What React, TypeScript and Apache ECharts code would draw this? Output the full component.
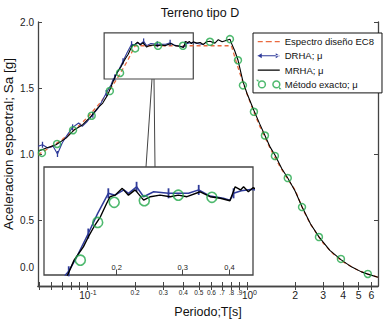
import React, { useEffect, useRef } from 'react';
import * as echarts from 'echarts';

// Design spectrum EC8 [T (s), Sa (g)]
const ec8: [number, number][] = [
  [0.0494, 0.995], [0.06, 1.056], [0.07, 1.11], [0.08, 1.165], [0.09, 1.22], [0.1, 1.274],
  [0.12, 1.383], [0.14, 1.492], [0.16, 1.602], [0.18, 1.711], [0.2, 1.82], [0.8, 1.82],
  [0.85, 1.713], [0.9, 1.618], [1.0, 1.456], [1.1, 1.324], [1.2, 1.213], [1.4, 1.04],
  [1.6, 0.91], [1.8, 0.809], [2.0, 0.728], [2.25, 0.575], [2.5, 0.466], [3.0, 0.324],
  [3.5, 0.238], [4.0, 0.182], [5.0, 0.116], [6.0, 0.081], [6.6, 0.067],
];

// DRHA; mu
const drha: [number, number][] = [
  [0.0495, 1.058], [0.0527, 1.07], [0.0569, 1.045], [0.0614, 1.058], [0.0654, 1.0], [0.07, 1.083],
  [0.0742, 1.134], [0.0813, 1.202], [0.0887, 1.235], [0.0934, 1.21], [0.1007, 1.248], [0.1088, 1.298],
  [0.1175, 1.348], [0.1224, 1.386], [0.132, 1.462], [0.1415, 1.525], [0.146, 1.568], [0.149, 1.58],
  [0.157, 1.63], [0.168, 1.702], [0.178, 1.767], [0.19, 1.832], [0.198, 1.826], [0.209, 1.843],
  [0.215, 1.832], [0.226, 1.853], [0.236, 1.821], [0.251, 1.837], [0.275, 1.832], [0.311, 1.832],
  [0.331, 1.843], [0.355, 1.823], [0.385, 1.816], [0.401, 1.81], [0.41, 1.832], [0.43, 1.84],
  [0.46, 1.845], [0.5, 1.835], [0.53, 1.83],
];
const drhaMarkedT: number[] = [0.0527, 0.0654, 0.0813, 0.1088, 0.132, 0.149, 0.168, 0.19, 0.226, 0.275, 0.331, 0.41];

// MRHA; mu
const mrha: [number, number][] = [
  [0.0495, 1.02], [0.0557, 1.045], [0.064, 1.07], [0.074, 1.12], [0.0835, 1.184], [0.094, 1.222],
  [0.1059, 1.285], [0.1165, 1.348], [0.1255, 1.386], [0.135, 1.45], [0.147, 1.56], [0.154, 1.616],
  [0.163, 1.659], [0.168, 1.691], [0.174, 1.724], [0.181, 1.756], [0.188, 1.799], [0.192, 1.821],
  [0.198, 1.826], [0.207, 1.848], [0.215, 1.826], [0.224, 1.843], [0.236, 1.81], [0.246, 1.821],
  [0.261, 1.826], [0.278, 1.821], [0.292, 1.826], [0.308, 1.821], [0.334, 1.837], [0.355, 1.821],
  [0.378, 1.816], [0.401, 1.808], [0.414, 1.853], [0.428, 1.843], [0.436, 1.853], [0.449, 1.837],
  [0.462, 1.85], [0.485, 1.84], [0.51, 1.845], [0.533, 1.83], [0.56, 1.85], [0.587, 1.854],
  [0.631, 1.84], [0.662, 1.866], [0.7, 1.85], [0.74, 1.86], [0.783, 1.87], [0.8, 1.84],
  [0.84, 1.78], [0.88, 1.71], [0.944, 1.55], [1.0, 1.46], [1.106, 1.33], [1.2, 1.23],
  [1.296, 1.14], [1.4, 1.05], [1.5, 0.99], [1.65, 0.89], [1.8, 0.818], [2.0, 0.72],
  [2.21, 0.6], [2.5, 0.47], [2.82, 0.372], [3.3, 0.27], [3.87, 0.2], [4.5, 0.145],
  [5.2, 0.107], [5.7, 0.09], [6.6, 0.066],
];

// Exact method; mu (main plot)
const exact: [number, number][] = [
  [0.0523, 1.008], [0.065, 1.076], [0.0818, 1.18], [0.107, 1.29], [0.139, 1.477], [0.161, 1.614],
  [0.2, 1.8], [0.278, 1.82], [0.398, 1.82], [0.587, 1.85], [0.783, 1.87], [0.879, 1.71],
  [0.944, 1.52], [1.106, 1.32], [1.296, 1.14], [1.496, 0.985], [1.8, 0.818], [2.21, 0.598],
  [2.82, 0.371], [3.87, 0.205], [5.7, 0.091],
];
// Exact method; mu (inset)
const exactInset: [number, number][] = [
  [0.16, 1.616], [0.178, 1.738], [0.197, 1.803], [0.237, 1.808], [0.292, 1.826], [0.359, 1.819],
];

const xTickT = [0.05, 0.06, 0.07, 0.08, 0.09, 0.1, 0.2, 0.3, 0.4, 0.5, 0.6, 0.7, 0.8, 0.9, 1, 2, 3, 4, 5, 6];
const xLabelT = [0.1, 0.2, 0.3, 0.4, 0.5, 0.6, 0.7, 0.8, 0.9, 1, 2, 3, 4, 5, 6];
const insetLabelT = [0.2, 0.3, 0.4];
const tRange = [0.0494, 6.6];
const saRange = [0, 2];
const insetT = [0.128, 0.462];
const insetSa = [1.568, 1.917];

const FONT = 'Liberation Sans, Arial, sans-serif';
const AX = '#444';
const RED = '#ea6a3f';
const BLUE = '#2f3b9a';
const GREEN = '#22a84a';

const NAME_EC8 = 'Espectro diseño EC8';
const NAME_DRHA = 'DRHA; μ';
const NAME_MRHA = 'MRHA; μ';
const NAME_EX = 'Método exacto; μ';

// corner anchors keep each icon's bounding box at 22 x 8
const CORNERS = 'M0,0L0.01,0L0.01,0.01ZM22,8L21.99,8L21.99,7.99Z';
const ICON_EC8 = 'path://' + CORNERS + 'M0,3.4h5v1.3h-5ZM8,3.4h6v1.3h-6ZM17,3.4h5v1.3h-5Z';
const ICON_DRHA = 'path://' + CORNERS + 'M0,3.45h22v1.1h-22ZM0,4L4,1.5L4,6.5ZM22,4L18,1.5L18,6.5Z';
const ICON_MRHA = 'path://' + CORNERS + 'M0,3.4h22v1.3h-22Z';
const ICON_EX = 'path://M0.8,4a3.4,3.4 0 1,0 6.8,0a3.4,3.4 0 1,0 -6.8,0ZM15.2,4a3.4,3.4 0 1,0 6.8,0a3.4,3.4 0 1,0 -6.8,0Z' + CORNERS;

function fmtMain(v: number): string {
  const r = Math.round(v * 100) / 100;
  if (Math.abs(r - 0.1) < 1e-6) return '{b|10}{s|-1}';
  if (Math.abs(r - 1) < 1e-6) return '{b0|10}{s|0}';
  if (r < 0.65) return '{m|' + r.toFixed(1) + '}';
  if (r < 1) return '{m|' + r.toFixed(1).slice(1) + '}';
  return '{n|' + String(Math.round(r)) + '}';
}

export default function App() {
  const ref = useRef<HTMLDivElement>(null);
  useEffect(() => {
    if (!ref.current) return;
    const chart = echarts.init(ref.current, undefined, { renderer: 'svg' });
    const isMarked = (t: number) => drhaMarkedT.some((m) => Math.abs(m - t) < 1e-9);
    const option: any = {
      animation: false,
      backgroundColor: '#fff',
      textStyle: { fontFamily: FONT },
      title: {
        text: 'Terreno tipo D',
        left: 195,
        top: 1,
        textAlign: 'center',
        textStyle: { fontFamily: FONT, fontSize: 12.5, fontWeight: 'normal', color: '#111' },
      },
      grid: [
        { left: 38, right: 11, top: 22, bottom: 36, show: false },
        { left: 44, right: 136, top: 167, bottom: 47, show: true, backgroundColor: '#fff', borderColor: AX, borderWidth: 1.3 },
      ],
      xAxis: [
        {
          type: 'log', gridIndex: 0, min: tRange[0], max: tRange[1], logBase: 10,
          axisLine: { show: true, lineStyle: { color: AX, width: 1.3 } },
          axisTick: { show: true, inside: true, length: 4, customValues: xTickT, lineStyle: { color: AX } },
          axisLabel: {
            show: true, customValues: xLabelT, margin: 3, color: '#222', fontFamily: FONT,
            formatter: fmtMain,
            rich: {
              b: { fontSize: 10, fontFamily: FONT, color: '#222', padding: [0, 0, 0, 2] },
              b0: { fontSize: 10, fontFamily: FONT, color: '#222', padding: [0, 0, 0, 5] },
              s: { fontSize: 7, fontFamily: FONT, color: '#222', padding: [0, 0, 6, 0] },
              m: { fontSize: 6.5, fontFamily: FONT, color: '#222' },
              n: { fontSize: 10.5, fontFamily: FONT, color: '#222' },
            },
          },
          splitLine: { show: false },
        },
        {
          type: 'log', gridIndex: 0, position: 'top', min: tRange[0], max: tRange[1], logBase: 10,
          axisLine: { show: true, lineStyle: { color: AX, width: 1.3 } },
          axisTick: { show: true, inside: true, length: 4, customValues: xTickT, lineStyle: { color: AX } },
          axisLabel: { show: false },
          splitLine: { show: false },
        },
        {
          type: 'log', gridIndex: 1, min: insetT[0], max: insetT[1], logBase: 10,
          axisLine: { show: false },
          axisTick: { show: true, inside: true, length: 5, customValues: insetLabelT, lineStyle: { color: AX } },
          axisLabel: {
            show: true, inside: true, customValues: insetLabelT, margin: 4, fontSize: 7.5, color: '#222', fontFamily: FONT,
            formatter: (v: number) => (Math.round(v * 10) / 10).toFixed(1),
          },
          splitLine: { show: false },
        },
      ],
      yAxis: [
        {
          type: 'value', gridIndex: 0, min: saRange[0], max: saRange[1], interval: 0.5,
          axisLine: { show: true, lineStyle: { color: AX, width: 1.3 } },
          axisTick: { show: true, inside: true, length: 4, lineStyle: { color: AX } },
          axisLabel: {
            show: true, margin: 4, fontSize: 10, color: '#222', fontFamily: FONT, showMinLabel: false,
            formatter: (v: number) => v.toFixed(1),
          },
          splitLine: { show: false },
        },
        {
          type: 'value', gridIndex: 0, position: 'right', min: saRange[0], max: saRange[1], interval: 0.5,
          axisLine: { show: true, lineStyle: { color: AX, width: 1.3 } },
          axisTick: { show: true, inside: true, length: 4, lineStyle: { color: AX } },
          axisLabel: { show: false },
          splitLine: { show: false },
        },
        {
          type: 'value', gridIndex: 1, min: insetSa[0], max: insetSa[1],
          axisLine: { show: false }, axisTick: { show: false }, axisLabel: { show: false }, splitLine: { show: false },
        },
      ],
      legend: {
        data: [
          { name: NAME_EC8, icon: ICON_EC8, itemStyle: { color: RED, borderWidth: 0 } },
          { name: NAME_DRHA, icon: ICON_DRHA, itemStyle: { color: BLUE, borderWidth: 0 } },
          { name: NAME_MRHA, icon: ICON_MRHA, itemStyle: { color: '#000', borderWidth: 0 } },
          {
            name: NAME_EX, icon: ICON_EX,
            itemStyle: { color: 'rgba(0,0,0,0)', borderColor: GREEN, borderWidth: 1.5 },
          },
        ],
        orient: 'vertical', left: 253, top: 33, itemWidth: 22, itemHeight: 8, itemGap: 4.3,
        padding: [3.5, 8, 3.5, 4], borderColor: '#111', borderWidth: 1, backgroundColor: '#fff',
        selectedMode: false,
        textStyle: { fontSize: 9.5, fontFamily: FONT, color: '#111' },
      },
      series: [
        {
          name: NAME_EC8, type: 'line', xAxisIndex: 0, yAxisIndex: 0, data: ec8, symbol: 'none', z: 2,
          lineStyle: { color: RED, width: 1.3, type: [4, 3] }, itemStyle: { color: RED },
          markArea: {
            silent: true, label: { show: false },
            itemStyle: { color: 'rgba(0,0,0,0)', borderColor: AX, borderWidth: 1.2 },
            data: [[{ coord: [insetT[0], insetSa[1]] }, { coord: [insetT[1], insetSa[0]] }]],
          },
        },
        {
          name: NAME_DRHA, type: 'line', xAxisIndex: 0, yAxisIndex: 0, data: drha, z: 3,
          symbol: 'rect', showAllSymbol: true,
          symbolSize: (val: number[]) => (isMarked(val[0]) ? [1.3, 6] : 0),
          lineStyle: { color: BLUE, width: 1.1 }, itemStyle: { color: BLUE },
        },
        {
          name: NAME_MRHA, type: 'line', xAxisIndex: 0, yAxisIndex: 0, data: mrha, symbol: 'none', z: 4,
          lineStyle: { color: '#000', width: 1.1 }, itemStyle: { color: '#000' },
        },
        {
          name: NAME_EX, type: 'scatter', xAxisIndex: 0, yAxisIndex: 0, data: exact, z: 5,
          symbol: 'circle', symbolSize: 7,
          itemStyle: { color: 'rgba(0,0,0,0)', borderColor: GREEN, borderWidth: 1.5 },
        },
        {
          name: 'DRHA inset', type: 'line', xAxisIndex: 2, yAxisIndex: 2, data: drha, z: 6,
          symbol: 'rect', showAllSymbol: true, clip: true,
          symbolSize: (val: number[]) => (isMarked(val[0]) ? [1.8, 10] : 0),
          lineStyle: { color: BLUE, width: 1.5 }, itemStyle: { color: BLUE },
        },
        {
          name: 'MRHA inset', type: 'line', xAxisIndex: 2, yAxisIndex: 2, data: mrha, symbol: 'none', z: 7, clip: true,
          lineStyle: { color: '#000', width: 1.4 }, itemStyle: { color: '#000' },
        },
        {
          name: 'Exacto inset', type: 'scatter', xAxisIndex: 2, yAxisIndex: 2, data: exactInset, z: 8, clip: true,
          symbol: 'circle', symbolSize: 10,
          itemStyle: { color: 'rgba(0,0,0,0)', borderColor: GREEN, borderWidth: 1.6 },
        },
      ],
      graphic: [
        {
          type: 'text', x: 34, y: 267,
          style: { text: '0.0', font: '10px ' + FONT, fill: '#222', textAlign: 'right', textVerticalAlign: 'middle' },
        },
        {
          type: 'text', x: 8, y: 144, rotation: Math.PI / 2,
          style: { text: 'Aceleracion espectral; Sa [g]', font: '13.5px ' + FONT, fill: '#111', textAlign: 'center', textVerticalAlign: 'middle' },
        },
        {
          type: 'text', x: 208, y: 312,
          style: { text: 'Periodo;T[s]', font: '12.5px ' + FONT, fill: '#111', textAlign: 'center', textVerticalAlign: 'middle' },
        },
        { type: 'line', shape: { x1: 152, y1: 79, x2: 146, y2: 167 }, style: { stroke: AX, lineWidth: 1 }, z: 10 },
        { type: 'line', shape: { x1: 154, y1: 79, x2: 155, y2: 167 }, style: { stroke: AX, lineWidth: 1 }, z: 10 },
      ],
    };
    chart.setOption(option);
    return () => chart.dispose();
  }, []);
  return <div ref={ref} style={{ position: 'absolute', left: 0, top: 0, width: 389, height: 322 }} />;
}
